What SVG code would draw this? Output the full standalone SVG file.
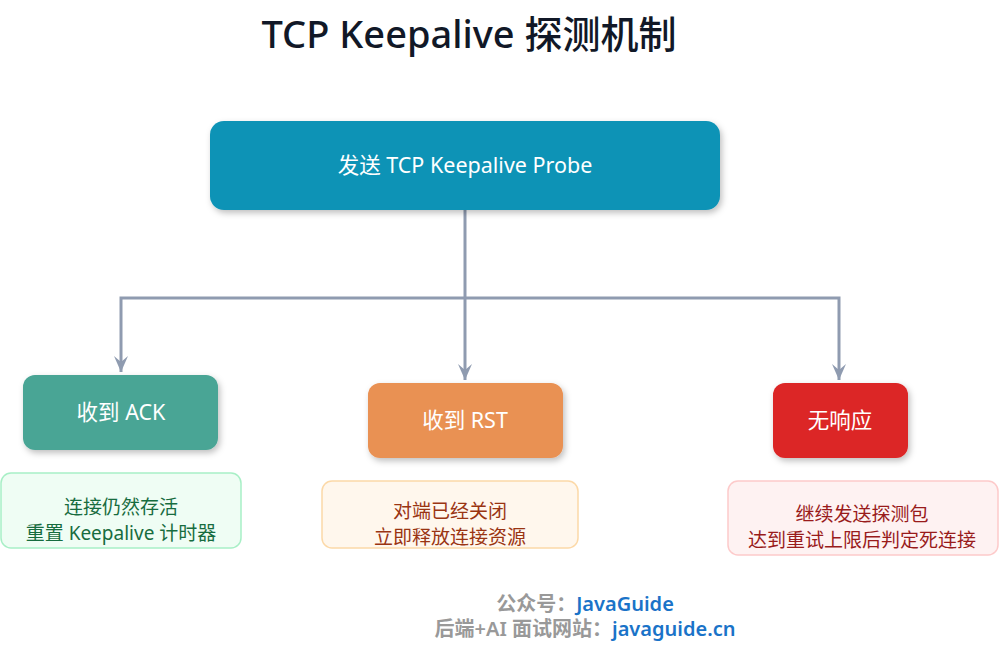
<svg xmlns="http://www.w3.org/2000/svg" width="999" height="645" viewBox="0 0 999 645">
<defs>
<style>
text{font-family:"Noto Sans","Noto Sans CJK SC",sans-serif;text-anchor:middle}
.w{fill:#fff;font-size:21.5px}
.c{stroke:#8f9bb0;stroke-width:3;fill:none}
.d{font-size:19px}
</style>
<marker id="b" markerWidth="14" markerHeight="16" refX="7" refY="16" orient="0" markerUnits="userSpaceOnUse"><path d="M0,0L7,16L14,0L7,6Z" fill="#8f9bb0"/></marker>
<filter id="s" x="-10%" y="-10%" width="130%" height="140%"><feDropShadow dx="2" dy="3" stdDeviation="3" flood-opacity="0.25"/></filter>
</defs>
<rect width="999" height="645" fill="#fff"/>
<text x="469" y="48" style="font-size:38px;font-weight:500;fill:#111827">TCP Keepalive 探测机制</text>
<g id="conn">
<path class="c" d="M465,210V298"/>
<path class="c" d="M465,298H121V372" marker-end="url(#b)"/>
<path class="c" d="M465,298V380" marker-end="url(#b)"/>
<path class="c" d="M465,298H839V380" marker-end="url(#b)"/>
</g>
<g id="probe"><rect x="210" y="121" width="510" height="89" rx="14" fill="#0a93b6" filter="url(#s)"/><text class="w" x="465" y="173">发送 TCP Keepalive Probe</text></g>
<g id="ack"><rect x="23" y="375" width="195" height="75" rx="12" fill="#4aa595" filter="url(#s)"/><text class="w" x="121" y="420">收到 ACK</text></g>
<g id="rst"><rect x="368" y="383" width="195" height="75" rx="12" fill="#e99153" filter="url(#s)"/><text class="w" x="465" y="428">收到 RST</text></g>
<g id="none"><rect x="773" y="383" width="135" height="75" rx="12" fill="#dc2626" filter="url(#s)"/><text class="w" x="840" y="428">无响应</text></g>
<g id="ackd"><rect x="1" y="473" width="240" height="75" rx="10" fill="#effdf4" stroke="#a8efc6" stroke-width="1.5"/><text class="d" x="121" y="514" fill="#176c3f">连接仍然存活</text><text class="d" x="121" y="540" fill="#176c3f">重置 Keepalive 计时器</text></g>
<g id="rstd"><rect x="322" y="481" width="256" height="67" rx="10" fill="#fff7ed" stroke="#fcd9a8" stroke-width="1.5"/><text class="d" x="450" y="518" fill="#9a3412">对端已经关闭</text><text class="d" x="450" y="544" fill="#9a3412">立即释放连接资源</text></g>
<g id="noned"><rect x="728" y="481" width="270" height="74" rx="10" fill="#fef2f2" stroke="#fdcaca" stroke-width="1.5"/><text class="d" x="862" y="521" fill="#991b1b">继续发送探测包</text><text class="d" x="862" y="547" fill="#991b1b">达到重试上限后判定死连接</text></g>
<text x="585" y="611" style="font-size:20px;font-weight:600"><tspan fill="#999">公众号：</tspan><tspan fill="#1a73c8">JavaGuide</tspan></text>
<text x="585" y="636" style="font-size:20px;font-weight:600"><tspan fill="#999">后端+AI 面试网站：</tspan><tspan fill="#1a73c8">javaguide.cn</tspan></text>
</svg>
